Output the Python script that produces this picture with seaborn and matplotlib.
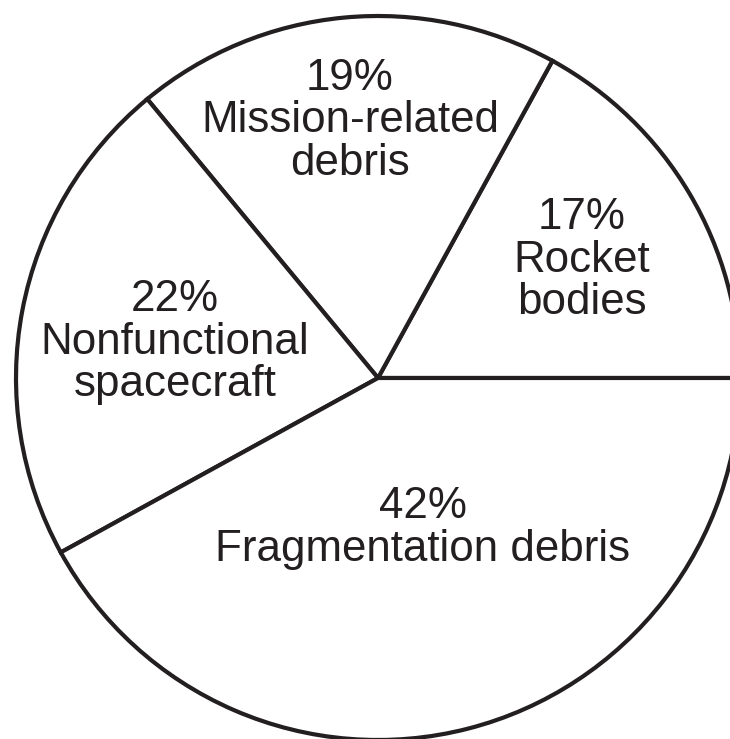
import matplotlib
matplotlib.use('Agg')
import matplotlib.pyplot as plt
import seaborn as sns

# Orbital debris composition (percent)
categories = ['Rocket\nbodies', 'Mission-related\ndebris',
              'Nonfunctional\nspacecraft', 'Fragmentation debris']
shares = [17, 19, 22, 42]

# label anchor points in pixel space (x, y from top)
label_pos = [(582, 260), (350, 121), (175, 342), (423, 528)]

sns.set_theme(style='white')
plt.rcParams['font.family'] = ['Liberation Sans', 'DejaVu Sans']

INK = '#231f20'
W, H = 730, 739

fig = plt.figure(figsize=(W / 100, H / 100), dpi=100)
ax = fig.add_axes([0, 0, 1, 1])

ax.pie(shares, startangle=0, counterclock=True,
       center=(378, H - 378), radius=362,
       colors=['white'] * len(shares),
       wedgeprops=dict(edgecolor=INK, linewidth=3))

for cat, pct, (x, y) in zip(categories, shares, label_pos):
    ax.text(x, H - y, f"{pct}%\n{cat}", ha='center', va='center',
            ma='center', fontsize=31.6, color=INK, linespacing=1.05)

ax.set_xlim(0, W)
ax.set_ylim(0, H)
ax.set_aspect('auto')
ax.axis('off')

fig.savefig('out.png', dpi=100, facecolor='white')
